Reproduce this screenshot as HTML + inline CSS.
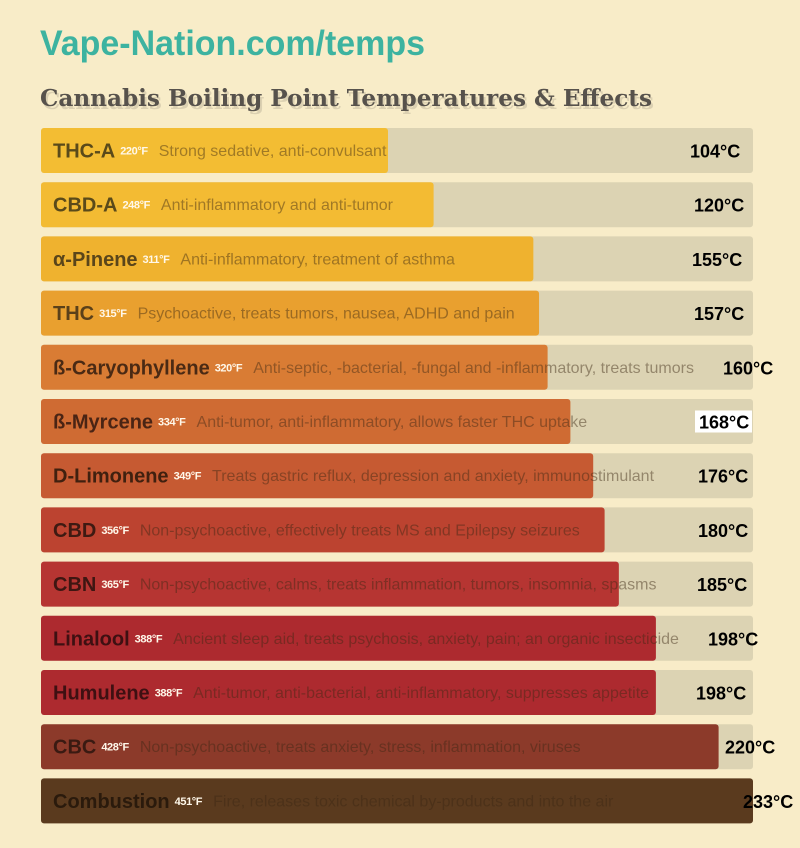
<!DOCTYPE html>
<html><head><meta charset="utf-8">
<style>
html,body{margin:0;padding:0;background:#f8ecc8;}
svg{display:block;}
text{font-family:"Liberation Sans",sans-serif;}
</style></head>
<body>
<svg id="chart" width="800" height="848" viewBox="0 0 800 848" xmlns="http://www.w3.org/2000/svg">
<rect width="800" height="848" fill="#f8ecc8"/>
<text x="40" y="55" font-size="35" font-weight="bold" fill="#3db3a0" textLength="385" lengthAdjust="spacingAndGlyphs">Vape-Nation.com/temps</text>
<text x="42" y="109" font-size="23" font-weight="bold" fill="#5b5650" opacity="0.18" textLength="612" lengthAdjust="spacingAndGlyphs" style="font-family:'DejaVu Serif',serif">Cannabis Boiling Point Temperatures &amp; Effects</text>
<text x="40" y="106" font-size="23" font-weight="bold" fill="#57524c" textLength="612" lengthAdjust="spacingAndGlyphs" style="font-family:'DejaVu Serif',serif">Cannabis Boiling Point Temperatures &amp; Effects</text>
<g id="rows"></g>
</svg>
<script>
const names = ["THC-A","CBD-A","α-Pinene","THC","ß-Caryophyllene","ß-Myrcene","D-Limonene","CBD","CBN","Linalool","Humulene","CBC","Combustion"];
const fahrenheit = [220,248,311,315,320,334,349,356,365,388,388,428,451];
const celsius = [104,120,155,157,160,168,176,180,185,198,198,220,233];
const effects = ["Strong sedative, anti-convulsant","Anti-inflammatory and anti-tumor","Anti-inflammatory, treatment of asthma","Psychoactive, treats tumors, nausea, ADHD and pain","Anti-septic, -bacterial, -fungal and -inflammatory, treats tumors","Anti-tumor, anti-inflammatory, allows faster THC uptake","Treats gastric reflux, depression and anxiety, immunostimulant","Non-psychoactive, effectively treats MS and Epilepsy seizures","Non-psychoactive, calms, treats inflammation, tumors, insomnia, spasms","Ancient sleep aid, treats psychosis, anxiety, pain; an organic insecticide","Anti-tumor, anti-bacterial, anti-inflammatory, suppresses appetite","Non-psychoactive, treats anxiety, stress, inflammation, viruses","Fire, releases toxic chemical by-products and into the air"];
// styling (not data)
const colors = ["#f3bd33","#f3bb33","#efb22f","#e9a02f","#d97c34","#cf6b33","#c65a32","#bc4330","#b63532","#ad2a2f","#ad2a2f","#8c3a2a","#5a3a1e"];
const nameColors = ["#5a4a1a","#5a4a1a","#5a451a","#5a401a","#4a2a14","#4a2414","#40200f","#3e1a12","#3e1612","#3e1012","#3e1012","#3a1a12","#2a1a0c"];
const labelLeft = [690,694,692,694,723,699,698,698,697,708,696,725,743];

const X0 = 41, X1 = 753;
function xScale(c){ return Math.min(X1, 388 + (c - 104) * 2.85); }
const rowTop = i => 128 + i * 54.2;
const ROW_H = 45;
const NS = "http://www.w3.org/2000/svg";
const g = document.getElementById("rows");
function mk(tag, attrs, parent){ const e=document.createElementNS(NS,tag); for(const k in attrs) e.setAttribute(k,attrs[k]); parent.appendChild(e); return e; }

names.forEach((n,i)=>{
  const y = rowTop(i), cy = y + ROW_H/2;
  const row = mk("g",{},g);
  
  
  const track = mk("rect",{x:X0,y:y,width:X1-X0,height:ROW_H,rx:3,fill:"#dcd3b3"},row);
  
  
  const bar = mk("rect",{x:X0,y:y,width:xScale(celsius[i])-X0,height:ROW_H,rx:3,fill:colors[i]},row);
  
  
  const t = mk("text",{x:53,y:cy+7,"font-size":20,"font-weight":"bold",fill:nameColors[i]},row);
  
  
  t.textContent = n;
  const nw = t.getComputedTextLength();
  const f = mk("text",{x:53+nw+5,y:cy+4,"font-size":11,"font-weight":"bold",fill:"#fff8ea","letter-spacing":"-0.4"},row);
  
  
  f.textContent = fahrenheit[i]+"°F";
  const fw = f.getComputedTextLength();
  const d = mk("text",{x:53+nw+5+fw+11,y:cy+5.5,"font-size":16,fill:"#3c2814","fill-opacity":0.45},row);
  
  
  d.textContent = effects[i];
  if(i===5){
    const bg = mk("rect",{x:695,y:cy-11,width:57,height:22,fill:"#ffffff"},row);
    
    
  }
  const c = mk("text",{x:labelLeft[i],y:cy+7,"font-size":18,"font-weight":"bold",fill:"#000"},row);
  
  
  c.textContent = celsius[i]+"°C";
});
</script>
</body></html>
